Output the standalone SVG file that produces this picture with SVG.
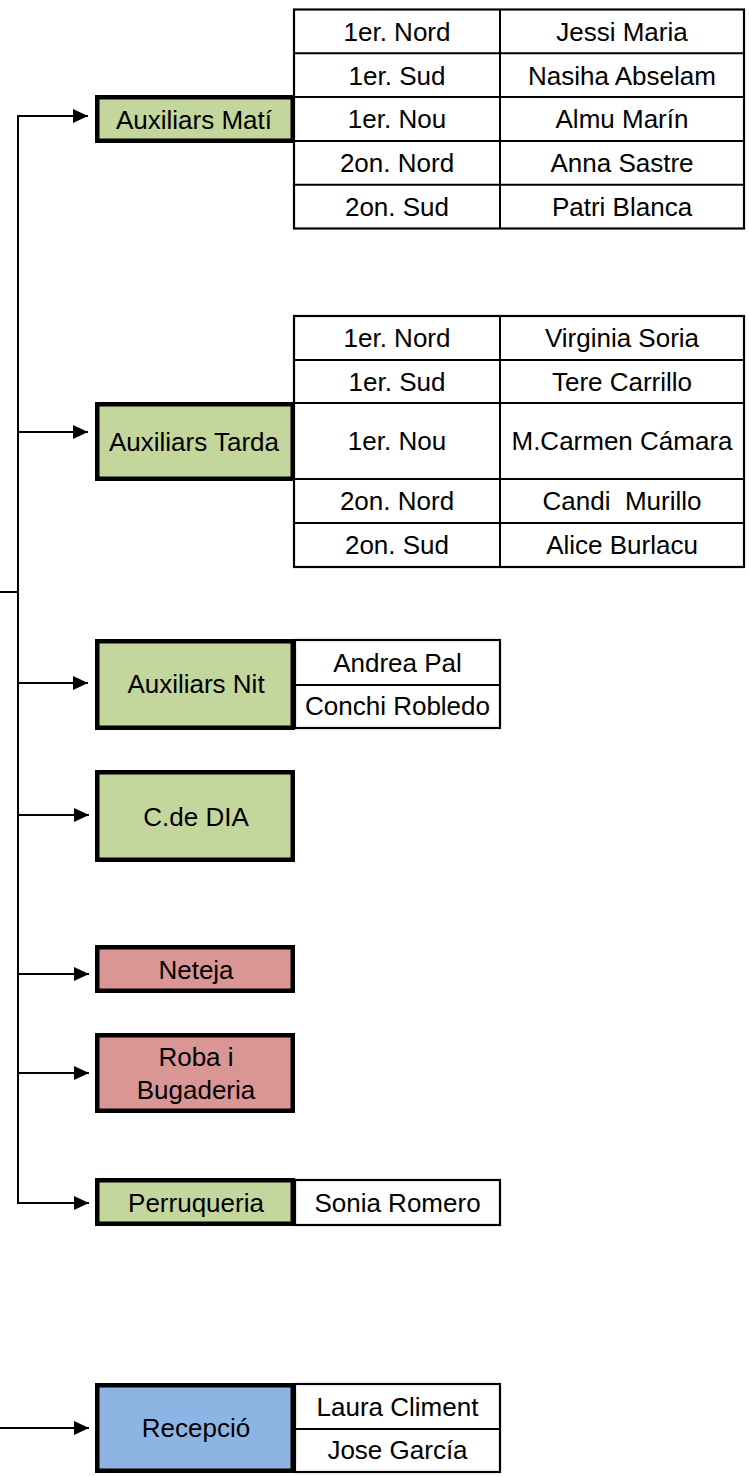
<svg xmlns="http://www.w3.org/2000/svg" width="749" height="1476" viewBox="0 0 749 1476">
<defs>
<marker id="ah" markerUnits="userSpaceOnUse" markerWidth="16" markerHeight="16" viewBox="0 0 16 16" refX="15" refY="7" orient="auto">
<path d="M0,0 L15,7 L0,14 Z" fill="#000"/>
</marker>
</defs>
<style>
text{font-family:"Liberation Sans",Arial,sans-serif;font-size:26px;fill:#000;text-anchor:middle}
.g{fill:#C3D69B;stroke:#000;stroke-width:4.5}
.r{fill:#D99694;stroke:#000;stroke-width:4.5}
.b{fill:#8EB4E3;stroke:#000;stroke-width:4.5}
.t{fill:#fff;stroke:#000;stroke-width:2.2}
.l{stroke:#000;stroke-width:2;fill:none}
.c{stroke:#000;stroke-width:2;fill:none}
</style>
<rect width="749" height="1476" fill="#fff"/>
<g id="connectors">
<line class="c" x1="18" y1="115" x2="18" y2="1204"/>
<line class="c" x1="0" y1="592" x2="19" y2="592"/>
<line class="c" x1="17" y1="116" x2="88" y2="116" marker-end="url(#ah)"/>
<line class="c" x1="17" y1="432" x2="88" y2="432" marker-end="url(#ah)"/>
<line class="c" x1="17" y1="683" x2="88" y2="683" marker-end="url(#ah)"/>
<line class="c" x1="17" y1="815" x2="89" y2="815" marker-end="url(#ah)"/>
<line class="c" x1="17" y1="974" x2="89" y2="974" marker-end="url(#ah)"/>
<line class="c" x1="17" y1="1073" x2="89" y2="1073" marker-end="url(#ah)"/>
<line class="c" x1="17" y1="1203" x2="89" y2="1203" marker-end="url(#ah)"/>
<line class="c" x1="0" y1="1428" x2="89" y2="1428" marker-end="url(#ah)"/>
</g>
<g id="table-mati">
<rect class="t" x="294" y="9.5" width="450" height="219"/>
<line class="l" x1="500" y1="9.5" x2="500" y2="228.5"/>
<line class="l" x1="294" y1="53.3" x2="744" y2="53.3"/>
<line class="l" x1="294" y1="97.1" x2="744" y2="97.1"/>
<line class="l" x1="294" y1="140.9" x2="744" y2="140.9"/>
<line class="l" x1="294" y1="184.7" x2="744" y2="184.7"/>
<text x="397" y="40.7">1er. Nord</text><text x="622" y="40.7">Jessi Maria</text>
<text x="397" y="84.5">1er. Sud</text><text x="622" y="84.5">Nasiha Abselam</text>
<text x="397" y="128.3">1er. Nou</text><text x="622" y="128.3">Almu Marín</text>
<text x="397" y="172.1">2on. Nord</text><text x="622" y="172.1">Anna Sastre</text>
<text x="397" y="215.9">2on. Sud</text><text x="622" y="215.9">Patri Blanca</text>
</g>
<g id="node-mati">
<rect class="g" x="97.25" y="97.25" width="195.5" height="43.5"/>
<text x="194" y="128.5">Auxiliars Matí</text>
</g>
<g id="table-tarda">
<rect class="t" x="294" y="316" width="450" height="251"/>
<line class="l" x1="500" y1="316" x2="500" y2="567"/>
<line class="l" x1="294" y1="360" x2="744" y2="360"/>
<line class="l" x1="294" y1="403" x2="744" y2="403"/>
<line class="l" x1="294" y1="479" x2="744" y2="479"/>
<line class="l" x1="294" y1="523" x2="744" y2="523"/>
<text x="397" y="347.3">1er. Nord</text><text x="622" y="347.3">Virginia Soria</text>
<text x="397" y="390.8">1er. Sud</text><text x="622" y="390.8">Tere Carrillo</text>
<text x="397" y="450.3">1er. Nou</text><text x="622" y="450.3">M.Carmen Cámara</text>
<text x="397" y="510.3">2on. Nord</text><text x="622" y="510.3" style="white-space:pre">Candi  Murillo</text>
<text x="397" y="554.3">2on. Sud</text><text x="622" y="554.3">Alice Burlacu</text>
</g>
<g id="node-tarda">
<rect class="g" x="97.25" y="404.25" width="195.5" height="74.5"/>
<text x="194" y="450.5">Auxiliars Tarda</text>
</g>
<g id="node-nit">
<rect class="t" x="295" y="640" width="205" height="88"/>
<line class="l" x1="295" y1="685" x2="500" y2="685"/>
<text x="397.5" y="671.5">Andrea Pal</text>
<text x="397.5" y="715">Conchi Robledo</text>
<rect class="g" x="97.25" y="641.25" width="195.5" height="86.5"/>
<text x="196" y="692.5">Auxiliars Nit</text>
</g>
<g id="node-dia">
<rect class="g" x="97.25" y="772.25" width="195.5" height="87.5"/>
<text x="196" y="825.5">C.de DIA</text>
</g>
<g id="node-neteja">
<rect class="r" x="97.25" y="947.25" width="195.5" height="43.5"/>
<text x="196" y="979">Neteja</text>
</g>
<g id="node-roba">
<rect class="r" x="97.25" y="1035.25" width="195.5" height="75.5"/>
<text x="196" y="1066">Roba i</text>
<text x="196" y="1098.5">Bugaderia</text>
</g>
<g id="node-perruqueria">
<rect class="t" x="295" y="1180" width="205" height="45"/>
<text x="397.5" y="1212">Sonia Romero</text>
<rect class="g" x="97.25" y="1180.25" width="195.5" height="43.5"/>
<text x="196" y="1212">Perruqueria</text>
</g>
<g id="node-recepcio">
<rect class="t" x="295" y="1384" width="205" height="88"/>
<line class="l" x1="295" y1="1429" x2="500" y2="1429"/>
<text x="397.5" y="1415.5">Laura Climent</text>
<text x="397.5" y="1459">Jose García</text>
<rect class="b" x="97.25" y="1385.25" width="195.5" height="85.5"/>
<text x="196" y="1437">Recepció</text>
</g>
</svg>
